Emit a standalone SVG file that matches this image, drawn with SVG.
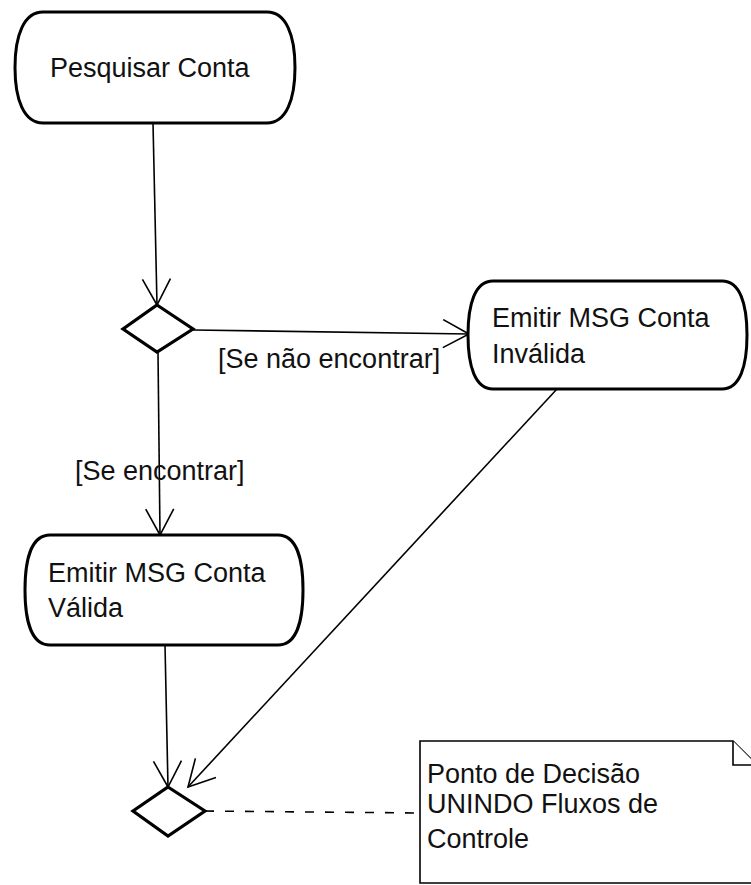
<svg xmlns="http://www.w3.org/2000/svg" width="751" height="885" viewBox="0 0 751 885">
<style>
.node{fill:#fff;stroke:#000;stroke-width:3}
.dec{fill:#fff;stroke:#000;stroke-width:3.2;stroke-linejoin:miter}
.t{font-family:"Liberation Sans",Arial,sans-serif;font-size:27px;fill:#111}
.edge{fill:none;stroke:#000;stroke-width:1.6}
.note{fill:#fff;stroke:#000;stroke-width:1.6}
</style>
<defs>
<marker id="arr" markerWidth="30" markerHeight="34" refX="27" refY="15" orient="auto" markerUnits="userSpaceOnUse">
<path d="M1,1 L27,15 L1,29" fill="none" stroke="#000" stroke-width="1.6"/>
</marker>
</defs>
<rect width="751" height="885" fill="#fff"/>
<g id="connectors">
<line class="edge" x1="153" y1="123" x2="157" y2="305" marker-end="url(#arr)"/>
<line class="edge" x1="193" y1="330" x2="469" y2="334" marker-end="url(#arr)"/>
<line class="edge" x1="158" y1="352" x2="160" y2="535" marker-end="url(#arr)"/>
<line class="edge" x1="165" y1="645" x2="168" y2="787" marker-end="url(#arr)"/>
<line class="edge" x1="557" y1="389" x2="188" y2="787" marker-end="url(#arr)"/>
<line class="edge" x1="205" y1="811" x2="420" y2="813" stroke-dasharray="9,11"/>
</g>
<g id="n1">
<path class="node" d="M43,12 H267 C286,12 295,35 295,67.5 C295,100 286,123 267,123 H43 C24,123 15,100 15,67.5 C15,35 24,12 43,12 Z"/>
<text class="t" x="50" y="77">Pesquisar Conta</text>
</g>
<g id="d1">
<polygon class="dec" points="157,305 193,329 157,352 123,329"/>
</g>
<g id="n2">
<path class="node" d="M493,281 H722 C740,281 747,304 747,335 C747,366 740,389 722,389 H493 C475,389 468,366 468,335 C468,304 475,281 493,281 Z"/>
<text class="t" x="492" y="327">Emitir MSG Conta</text>
<text class="t" x="492" y="363">Inválida</text>
</g>
<g id="l1"><text class="t" x="218" y="368">[Se não encontrar]</text></g>
<g id="l2"><text class="t" x="75" y="480">[Se encontrar]</text></g>
<g id="n3">
<path class="node" d="M50,535 H278 C296,535 303,558 303,590 C303,622 296,645 278,645 H50 C32,645 25,622 25,590 C25,558 32,535 50,535 Z"/>
<text class="t" x="48" y="582">Emitir MSG Conta</text>
<text class="t" x="48" y="617">Válida</text>
</g>
<g id="d2">
<polygon class="dec" points="168,787 205,811 168,836 133,811"/>
</g>
<g id="note">
<path class="note" d="M420,741 L733,741 L757,765 L757,883 L420,883 Z"/>
<path class="note" d="M733,741 L733,765 L757,765" fill="none"/>
<text class="t" x="427" y="783">Ponto de Decisão</text>
<text class="t" x="427" y="813">UNINDO Fluxos de</text>
<text class="t" x="427" y="848">Controle</text>
</g>
</svg>
